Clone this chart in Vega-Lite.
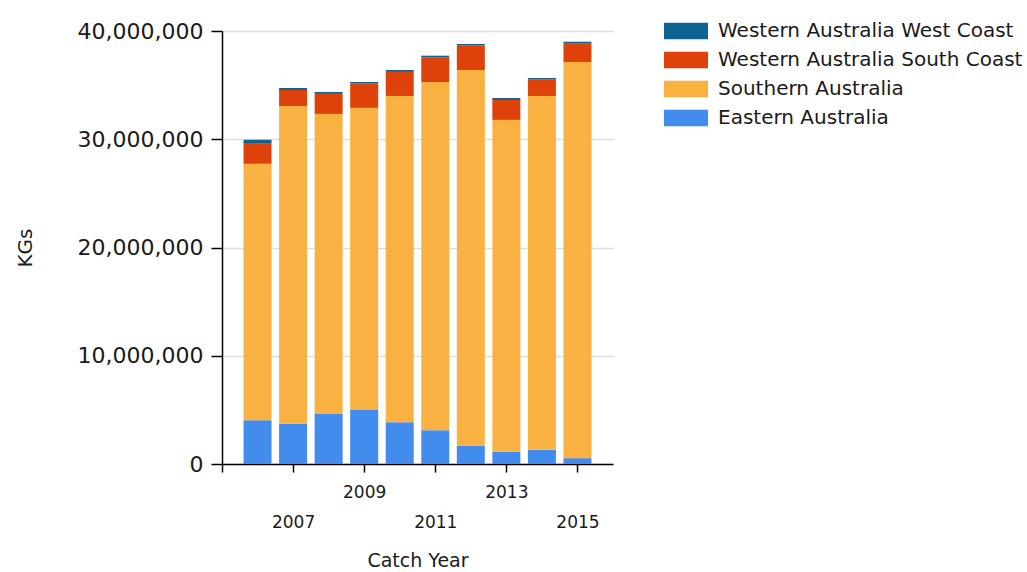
{
  "$schema": "https://vega.github.io/schema/vega-lite/v6.json",
  "autosize": {"type": "none"},
  "padding": {"left": 222, "top": 31, "right": 414, "bottom": 108},
  "width": 391,
  "height": 433,
  "background": "white",
  "config": {
    "view": {"stroke": null},
    "font": "DejaVu Sans"
  },
  "data": {
    "values": [
      {"year": 2006, "region": "Eastern Australia", "kg": 4040000},
      {"year": 2006, "region": "Southern Australia", "kg": 23690000},
      {"year": 2006, "region": "Western Australia South Coast", "kg": 1850000},
      {"year": 2006, "region": "Western Australia West Coast", "kg": 370000},
      {"year": 2007, "region": "Eastern Australia", "kg": 3710000},
      {"year": 2007, "region": "Southern Australia", "kg": 29370000},
      {"year": 2007, "region": "Western Australia South Coast", "kg": 1480000},
      {"year": 2007, "region": "Western Australia West Coast", "kg": 180000},
      {"year": 2008, "region": "Eastern Australia", "kg": 4630000},
      {"year": 2008, "region": "Southern Australia", "kg": 27710000},
      {"year": 2008, "region": "Western Australia South Coast", "kg": 1850000},
      {"year": 2008, "region": "Western Australia West Coast", "kg": 180000},
      {"year": 2009, "region": "Eastern Australia", "kg": 5000000},
      {"year": 2009, "region": "Southern Australia", "kg": 27900000},
      {"year": 2009, "region": "Western Australia South Coast", "kg": 2240000},
      {"year": 2009, "region": "Western Australia West Coast", "kg": 150000},
      {"year": 2010, "region": "Eastern Australia", "kg": 3860000},
      {"year": 2010, "region": "Southern Australia", "kg": 30140000},
      {"year": 2010, "region": "Western Australia South Coast", "kg": 2220000},
      {"year": 2010, "region": "Western Australia West Coast", "kg": 180000},
      {"year": 2011, "region": "Eastern Australia", "kg": 3120000},
      {"year": 2011, "region": "Southern Australia", "kg": 32170000},
      {"year": 2011, "region": "Western Australia South Coast", "kg": 2250000},
      {"year": 2011, "region": "Western Australia West Coast", "kg": 180000},
      {"year": 2012, "region": "Eastern Australia", "kg": 1680000},
      {"year": 2012, "region": "Southern Australia", "kg": 34720000},
      {"year": 2012, "region": "Western Australia South Coast", "kg": 2250000},
      {"year": 2012, "region": "Western Australia West Coast", "kg": 150000},
      {"year": 2013, "region": "Eastern Australia", "kg": 1130000},
      {"year": 2013, "region": "Southern Australia", "kg": 30660000},
      {"year": 2013, "region": "Western Australia South Coast", "kg": 1840000},
      {"year": 2013, "region": "Western Australia West Coast", "kg": 180000},
      {"year": 2014, "region": "Eastern Australia", "kg": 1310000},
      {"year": 2014, "region": "Southern Australia", "kg": 32690000},
      {"year": 2014, "region": "Western Australia South Coast", "kg": 1510000},
      {"year": 2014, "region": "Western Australia West Coast", "kg": 150000},
      {"year": 2015, "region": "Eastern Australia", "kg": 540000},
      {"year": 2015, "region": "Southern Australia", "kg": 36600000},
      {"year": 2015, "region": "Western Australia South Coast", "kg": 1690000},
      {"year": 2015, "region": "Western Australia West Coast", "kg": 180000}
    ]
  },
  "transform": [
    {"calculate": "indexof(['Eastern Australia','Southern Australia','Western Australia South Coast','Western Australia West Coast'], datum.region)", "as": "stackOrder"}
  ],
  "mark": {"type": "bar", "size": 28},
  "encoding": {
    "x": {
      "field": "year",
      "type": "quantitative",
      "scale": {"domain": [2005, 2016], "nice": false, "zero": false, "padding": 0},
      "axis": {
        "title": "Catch Year",
        "values": [2005, 2007, 2009, 2011, 2013, 2015],
        "labelExpr": "datum.value == 2005 ? '' : datum.value",
        "grid": false,
        "domainColor": "#000000",
        "domainWidth": 1.5,
        "tickColor": "#000000",
        "tickWidth": 1.5,
        "tickSize": 8,
        "labelFont": "DejaVu Sans",
        "labelFontSize": 17,
        "labelColor": "#1a1a1a",
        "labelPadding": {"condition": {"test": "datum.value % 4 == 3", "value": 42}, "value": 12},
        "labelBaseline": "top",
        "labelFlush": false,
        "labelOverlap": false,
        "titleFont": "DejaVu Sans",
        "titleFontSize": 19,
        "titleFontWeight": "normal",
        "titleColor": "#1a1a1a",
        "titlePadding": 21
      }
    },
    "y": {
      "field": "kg",
      "type": "quantitative",
      "stack": "zero",
      "scale": {"domain": [0, 40000000], "nice": false},
      "axis": {
        "title": "KGs",
        "values": [0, 10000000, 20000000, 30000000, 40000000],
        "format": ",d",
        "grid": true,
        "gridColor": "#dddddd",
        "gridWidth": 1.5,
        "domainColor": "#000000",
        "domainWidth": 1.5,
        "tickColor": "#000000",
        "tickWidth": 1.5,
        "tickSize": 11,
        "labelFont": "DejaVu Sans",
        "labelFontSize": 22,
        "labelColor": "#1a1a1a",
        "labelPadding": 8,
        "titleFont": "DejaVu Sans",
        "titleFontSize": 20,
        "titleFontWeight": "normal",
        "titleColor": "#1a1a1a",
        "titlePadding": 42
      }
    },
    "color": {
      "field": "region",
      "type": "nominal",
      "scale": {
        "domain": ["Western Australia West Coast", "Western Australia South Coast", "Southern Australia", "Eastern Australia"],
        "range": ["#0E6392", "#DF410A", "#F9B141", "#418CED"]
      },
      "legend": {
        "title": null,
        "orient": "none",
        "legendX": 453,
        "legendY": -11,
        "symbolType": "M-2,-0.76H2V0.76H-2Z",
        "symbolSize": 484,
        "symbolStrokeWidth": 0,
        "symbolOpacity": 1,
        "labelFont": "DejaVu Sans",
        "labelFontSize": 20,
        "labelColor": "#1a1a1a",
        "labelOffset": 21,
        "labelLimit": 400,
        "rowPadding": 8
      }
    },
    "order": {"field": "stackOrder", "type": "quantitative", "sort": "ascending"}
  }
}
